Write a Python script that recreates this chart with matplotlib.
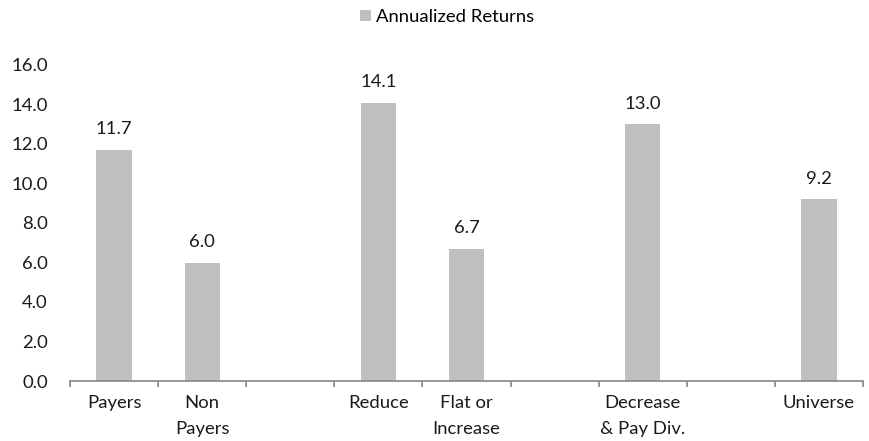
import matplotlib
matplotlib.use('Agg')
import matplotlib.pyplot as plt
import numpy as np

# Catégories (les chaînes vides servent d'espaces entre les groupes)
categories = ['Payers', 'Non\nPayers', '', 'Reduce', 'Flat or\nIncrease', '',
              'Decrease\n& Pay Div.', '', 'Universe']
returns = [11.7, 6.0, None, 14.1, 6.7, None, 13.0, None, 9.2]
series_name = 'Annualized Returns'
yticks = [0, 2, 4, 6, 8, 10, 12, 14, 16]

plt.rcParams['font.family'] = ['Lato', 'DejaVu Sans']
fs = 13.3
plt.rcParams['font.size'] = fs

fig = plt.figure(figsize=(8.69, 4.41), dpi=100)
ax = fig.add_axes([70 / 869, 1 - 381 / 441, 793 / 869, 316 / 441])

x = np.arange(len(categories))
xs = [i for i, v in zip(x, returns) if v is not None]
vals = [v for v in returns if v is not None]

bars = ax.bar(xs, vals, width=0.4, color='#BFBFBF', label=series_name)

# Étiquettes de valeur au-dessus des barres
for xi, v in zip(xs, vals):
    ax.annotate(f'{v:.1f}', xy=(xi, v), xytext=(0, 9), textcoords='offset points',
                ha='center', va='bottom', fontsize=fs, color='#1a1a1a')

ax.set_xlim(-0.5, len(categories) - 0.5)
ax.set_ylim(0, 16)
ax.set_yticks(yticks)
ax.set_yticklabels([f'{t:.1f}' for t in yticks])

ax.set_xticks(x)
ax.set_xticklabels(categories, linespacing=1.75)
ax.set_xticks(np.arange(len(categories) + 1) - 0.5, minor=True)
ax.tick_params(axis='x', which='major', length=0, pad=10, colors='#1a1a1a')
ax.tick_params(axis='x', which='minor', length=4, width=1.2, color='#868686')
ax.tick_params(axis='y', length=0, pad=16, colors='#1a1a1a')

for s in ['top', 'right', 'left']:
    ax.spines[s].set_visible(False)
ax.spines['bottom'].set_color('#868686')
ax.spines['bottom'].set_linewidth(1.2)

fig.legend(handles=[bars], labels=[series_name], loc='center',
           bbox_to_anchor=(447 / 869, 1 - 17 / 441), frameon=False,
           handlelength=0.6, handleheight=0.6, handletextpad=0.3, fontsize=fs)

fig.savefig('out.png', dpi=100)
